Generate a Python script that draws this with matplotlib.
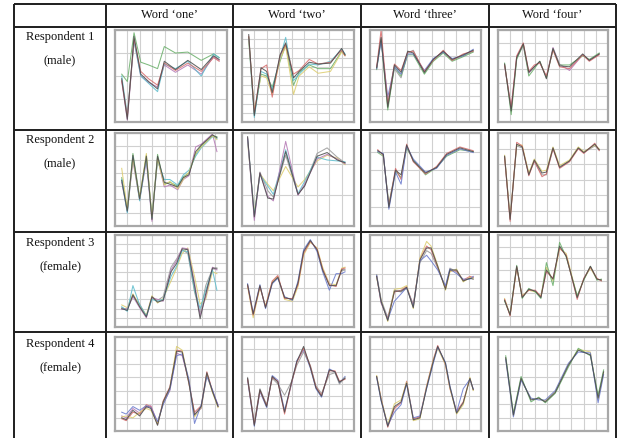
import matplotlib
matplotlib.use("Agg")
import matplotlib.pyplot as plt
import numpy as np

# ---------------- data ----------------
col_labels = ["Word \u2018one\u2019", "Word \u2018two\u2019", "Word \u2018three\u2019", "Word \u2018four\u2019"]
row_labels = [("Respondent 1", "(male)"), ("Respondent 2", "(male)"),
              ("Respondent 3", "(female)"), ("Respondent 4", "(female)")]

# horizontal grid divisions per panel
hgrid = [[4, 10, 7, 7], [7, 3, 5, 6], [10, 7, 7, 8], [7, 8, 8, 7]]

series_colors = ["#4a4a4a", "#d66a6a", "#6878cc", "#68ae68", "#b478b4", "#dccc6c", "#5cbccc", "#989898"]

r1c1_x = [6, 11, 17, 23, 30, 38, 44, 54, 65, 77, 88, 93]
r1c1_y = [
    [47, 3, 93, 52, 44, 36, 66, 57, 67, 57, 72, 68],
    [45, 6, 90, 55, 47, 40, 64, 56, 64, 55, 70, 66],
    [50, 8, 88, 50, 42, 33, 63, 58, 66, 50, 74, 70],
    [52, 44, 97, 65, 62, 58, 82, 75, 76, 67, 74, 70],
    [44, 2, 88, 50, 43, 38, 62, 54, 62, 52, 71, 67],
]
r1c1_c = [0, 1, 6, 3, 4]

r1c2_x = [6, 11, 17, 22, 27, 34, 39, 46, 51, 60, 68, 79, 89, 92]
r1c2_y = [
    [95, 7, 59, 55, 32, 73, 86, 48, 55, 65, 63, 64, 80, 73],
    [93, 10, 58, 62, 27, 72, 84, 52, 56, 68, 63, 65, 78, 72],
    [90, 5, 55, 52, 35, 70, 92, 45, 52, 63, 62, 66, 79, 74],
    [88, 12, 50, 48, 30, 68, 82, 30, 50, 60, 53, 55, 76, 72],
    [92, 9, 52, 50, 38, 66, 84, 40, 54, 62, 58, 58, 77, 73],
]
r1c2_c = [0, 1, 6, 5, 3]

r1c3_x = [6, 10, 16, 22, 28, 34, 39, 49, 57, 66, 74, 84, 93]
r1c3_y = [
    [59, 92, 16, 62, 54, 77, 75, 54, 68, 77, 68, 73, 78],
    [60, 100, 20, 63, 56, 76, 77, 55, 67, 78, 67, 74, 77],
    [58, 88, 27, 60, 52, 74, 74, 56, 69, 76, 69, 72, 79],
    [57, 90, 13, 60, 50, 73, 73, 52, 66, 75, 66, 71, 76],
    [59, 91, 18, 58, 48, 75, 78, 53, 68, 76, 67, 72, 77],
]
r1c3_c = [0, 1, 2, 3, 7]

r1c4_x = [6, 12, 17, 23, 28, 33, 38, 44, 50, 56, 65, 77, 83, 92]
r1c4_y = [
    [63, 12, 70, 85, 54, 60, 66, 47, 80, 61, 60, 74, 67, 74],
    [62, 16, 72, 86, 55, 62, 64, 50, 78, 60, 58, 73, 66, 73],
    [64, 8, 68, 84, 50, 58, 66, 48, 79, 62, 62, 72, 68, 75],
    [61, 14, 71, 83, 53, 60, 65, 49, 81, 63, 56, 73, 67, 74],
]
r1c4_c = [0, 1, 3, 4]

r2c1_x = [6, 11, 16, 22, 28, 33, 38, 44, 49, 56, 61, 66, 72, 77, 87, 91]
r2c1_y = [
    [49, 16, 76, 29, 75, 7, 75, 47, 45, 42, 52, 55, 80, 87, 98, 95],
    [62, 18, 72, 30, 78, 10, 72, 44, 48, 40, 50, 58, 78, 85, 97, 93],
    [50, 14, 74, 27, 73, 9, 70, 50, 50, 44, 55, 60, 75, 84, 96, 94],
    [47, 15, 70, 28, 70, 5, 73, 42, 44, 39, 50, 54, 85, 88, 99, 80],
    [52, 17, 78, 31, 76, 8, 77, 45, 47, 43, 53, 57, 77, 86, 97, 96],
]
r2c1_c = [0, 5, 6, 4, 3]

r2c2_x = [5, 11, 16, 23, 28, 39, 50, 56, 67, 76, 85, 92]
r2c2_y = [
    [96, 10, 57, 30, 29, 80, 34, 43, 75, 79, 71, 68],
    [94, 6, 57, 32, 27, 91, 33, 45, 72, 77, 72, 67],
    [93, 12, 55, 43, 34, 82, 35, 48, 74, 71, 70, 69],
    [90, 14, 56, 45, 38, 64, 42, 50, 70, 76, 73, 66],
    [95, 9, 58, 38, 31, 76, 34, 44, 78, 84, 74, 68],
]
r2c2_c = [0, 4, 6, 5, 7]

r2c3_x = [7, 12, 17, 23, 28, 33, 39, 50, 60, 69, 81, 93]
r2c3_y = [
    [81, 77, 20, 60, 55, 87, 70, 57, 63, 77, 84, 80],
    [80, 78, 18, 58, 45, 86, 72, 58, 62, 76, 83, 79],
    [82, 76, 22, 62, 50, 88, 69, 56, 64, 78, 85, 81],
    [79, 75, 24, 59, 52, 84, 71, 55, 63, 75, 82, 80],
]
r2c3_c = [0, 2, 1, 3]

r2c4_x = [6, 11, 17, 22, 28, 33, 40, 44, 50, 56, 65, 73, 78, 88, 92]
r2c4_y = [
    [75, 7, 88, 85, 55, 71, 57, 58, 84, 63, 70, 84, 79, 88, 82],
    [74, 5, 90, 86, 54, 70, 53, 56, 83, 62, 69, 83, 78, 89, 81],
    [76, 9, 87, 87, 57, 72, 59, 60, 85, 65, 71, 85, 80, 87, 83],
    [75, 8, 86, 84, 56, 69, 55, 55, 84, 64, 70, 84, 79, 86, 82],
]
r2c4_c = [0, 1, 5, 7]

r3c1_x = [6, 11, 16, 22, 28, 33, 38, 43, 50, 55, 60, 65, 71, 76, 81, 87, 91]
r3c1_y = [
    [20, 18, 35, 22, 11, 33, 27, 29, 60, 69, 85, 84, 45, 9, 36, 64, 64],
    [22, 17, 45, 24, 12, 30, 28, 30, 55, 66, 83, 82, 40, 20, 40, 62, 40],
    [19, 20, 33, 21, 10, 32, 30, 28, 62, 72, 86, 85, 48, 12, 33, 65, 62],
    [24, 21, 36, 23, 13, 34, 26, 31, 50, 64, 80, 86, 55, 25, 30, 60, 58],
    [21, 19, 34, 25, 12, 31, 29, 33, 65, 74, 84, 80, 38, 15, 45, 63, 63],
]
r3c1_c = [0, 6, 4, 5, 7]

r3c2_x = [5, 10, 16, 21, 27, 32, 38, 45, 50, 55, 61, 67, 72, 78, 84, 89, 92]
r3c2_y = [
    [46, 14, 45, 21, 48, 54, 32, 30, 48, 82, 94, 84, 62, 45, 45, 62, 62],
    [45, 13, 44, 22, 50, 56, 31, 31, 46, 80, 93, 85, 63, 46, 44, 63, 64],
    [47, 15, 46, 20, 47, 53, 33, 29, 50, 84, 95, 82, 60, 40, 58, 58, 60],
    [44, 10, 43, 23, 49, 55, 30, 28, 44, 78, 92, 86, 65, 47, 46, 64, 65],
]
r3c2_c = [0, 1, 2, 5]

r3c3_x = [6, 10, 16, 22, 28, 33, 39, 45, 51, 55, 61, 68, 72, 78, 84, 90, 93]
r3c3_y = [
    [55, 28, 7, 39, 39, 43, 21, 73, 86, 86, 66, 41, 62, 62, 50, 53, 52],
    [56, 27, 8, 28, 36, 43, 22, 72, 78, 72, 62, 45, 63, 58, 52, 52, 55],
    [54, 29, 6, 41, 42, 45, 20, 75, 93, 88, 67, 40, 60, 63, 49, 54, 53],
    [55, 26, 9, 38, 40, 44, 23, 74, 88, 84, 65, 42, 61, 61, 51, 55, 54],
    [57, 30, 10, 40, 38, 42, 25, 70, 83, 80, 64, 43, 64, 60, 50, 53, 54],
]
r3c3_c = [0, 2, 5, 1, 7]

r3c4_x = [6, 11, 17, 22, 28, 34, 39, 44, 50, 56, 62, 72, 78, 84, 90, 94]
r3c4_y = [
    [29, 13, 66, 32, 41, 39, 32, 62, 52, 88, 77, 32, 52, 66, 52, 51],
    [30, 12, 65, 33, 40, 40, 33, 60, 53, 86, 78, 30, 53, 65, 53, 50],
    [28, 14, 67, 31, 42, 38, 31, 70, 45, 92, 76, 34, 51, 66, 51, 52],
    [31, 13, 64, 34, 40, 38, 34, 65, 50, 85, 80, 33, 52, 64, 52, 51],
]
r3c4_c = [0, 1, 3, 5]

r4c1_x = [6, 10, 16, 22, 28, 32, 38, 43, 49, 55, 60, 66, 71, 77, 82, 87, 92]
r4c1_y = [
    [14, 12, 22, 16, 26, 24, 6, 31, 46, 85, 84, 51, 17, 26, 62, 42, 26],
    [20, 18, 26, 22, 27, 25, 10, 28, 44, 80, 82, 55, 8, 28, 58, 44, 27],
    [15, 16, 14, 20, 24, 22, 8, 30, 45, 90, 86, 52, 15, 25, 60, 41, 25],
    [13, 11, 20, 18, 28, 26, 7, 32, 47, 86, 85, 50, 20, 27, 63, 43, 26],
    [16, 14, 24, 19, 25, 27, 9, 29, 43, 83, 80, 53, 18, 24, 61, 42, 28],
]
r4c1_c = [0, 2, 5, 1, 4]

r4c2_x = [5, 11, 16, 22, 27, 32, 38, 44, 49, 55, 61, 66, 71, 78, 83, 87, 92]
r4c2_y = [
    [56, 6, 44, 26, 58, 52, 20, 51, 74, 90, 68, 46, 37, 65, 63, 52, 56],
    [55, 7, 43, 27, 57, 53, 18, 50, 73, 88, 69, 47, 38, 64, 64, 53, 55],
    [57, 9, 45, 28, 56, 50, 38, 52, 70, 84, 70, 48, 40, 60, 62, 50, 57],
    [54, 5, 42, 25, 59, 54, 22, 49, 75, 86, 67, 45, 36, 66, 63, 51, 58],
]
r4c2_c = [0, 1, 7, 2]

r4c3_x = [6, 10, 16, 22, 28, 33, 39, 45, 51, 57, 61, 68, 72, 78, 84, 90, 93]
r4c3_y = [
    [58, 33, 5, 26, 31, 51, 12, 14, 46, 74, 90, 72, 47, 19, 30, 56, 44],
    [57, 32, 6, 20, 28, 50, 14, 16, 45, 72, 89, 73, 48, 20, 45, 55, 45],
    [59, 34, 7, 29, 33, 52, 11, 13, 47, 75, 88, 71, 46, 18, 28, 57, 43],
    [58, 35, 4, 24, 30, 53, 13, 15, 48, 76, 91, 70, 45, 21, 31, 56, 44],
]
r4c3_c = [0, 2, 5, 1]

r4c4_x = [7, 14, 21, 30, 37, 43, 52, 64, 73, 84, 91, 96]
r4c4_y = [
    [78, 17, 56, 33, 35, 31, 41, 70, 86, 81, 35, 63],
    [76, 15, 54, 35, 33, 33, 43, 72, 84, 83, 30, 60],
    [80, 19, 58, 31, 36, 30, 40, 68, 88, 80, 38, 65],
    [77, 16, 55, 34, 34, 32, 42, 71, 87, 84, 33, 62],
]
r4c4_c = [0, 2, 3, 5]

panels = [
    [(r1c1_x, r1c1_y, r1c1_c), (r1c2_x, r1c2_y, r1c2_c), (r1c3_x, r1c3_y, r1c3_c), (r1c4_x, r1c4_y, r1c4_c)],
    [(r2c1_x, r2c1_y, r2c1_c), (r2c2_x, r2c2_y, r2c2_c), (r2c3_x, r2c3_y, r2c3_c), (r2c4_x, r2c4_y, r2c4_c)],
    [(r3c1_x, r3c1_y, r3c1_c), (r3c2_x, r3c2_y, r3c2_c), (r3c3_x, r3c3_y, r3c3_c), (r3c4_x, r3c4_y, r3c4_c)],
    [(r4c1_x, r4c1_y, r4c1_c), (r4c2_x, r4c2_y, r4c2_c), (r4c3_x, r4c3_y, r4c3_c), (r4c4_x, r4c4_y, r4c4_c)],
]

# ---------------- layout (pixels) ----------------
W, H = 619, 438
fig = plt.figure(figsize=(W / 100, H / 100), dpi=100)
fig.patch.set_facecolor("white")

tab = fig.add_axes([0, 0, 1, 1])
tab.set_xlim(0, W)
tab.set_ylim(H, 0)
tab.axis("off")

vlines = [14, 106, 233, 361, 489, 616]
hlines = [4, 27, 130, 232, 332]
for x in vlines:
    tab.plot([x, x], [4, H], color="#1e1e1e", lw=1.4, solid_capstyle="butt")
for y in hlines:
    tab.plot([14, 616], [y, y], color="#1e1e1e", lw=1.4, solid_capstyle="butt")

serif = ["Liberation Serif", "DejaVu Serif"]
for j, lab in enumerate(col_labels):
    xc = (vlines[j + 1] + vlines[j + 2]) / 2
    tab.text(xc, 15, lab, ha="center", va="center", fontsize=9, family=serif, color="#111")

row_text_y = [(37, 60), (140, 163), (243, 266), (344, 367)]
for i, (a, b) in enumerate(row_labels):
    tab.text(60, row_text_y[i][0], a, ha="center", va="center", fontsize=9, family=serif, color="#111")
    tab.text(60, row_text_y[i][1], b, ha="center", va="center", fontsize=9, family=serif, color="#111")

cols_px = [(115, 227), (242, 354), (370, 481), (498, 608)]
rows_px = [(30, 122), (133, 226), (235, 327), (337, 431)]

for i in range(4):
    for j in range(4):
        x0, x1 = cols_px[j]
        y0, y1 = rows_px[i]
        ax = fig.add_axes([x0 / W, 1 - y1 / H, (x1 - x0) / W, (y1 - y0) / H])
        ax.set_xlim(0, 100)
        ax.set_ylim(0, 100)
        ax.set_xticks(np.linspace(0, 100, 10))
        ax.set_yticks(np.linspace(0, 100, hgrid[i][j] + 1))
        ax.grid(True, color="#d0d0d0", lw=0.8)
        ax.tick_params(length=0, labelbottom=False, labelleft=False)
        for s in ax.spines.values():
            s.set_color("#a8a8a8")
            s.set_linewidth(1.6)
        xs, ys, cs = panels[i][j]
        for k in range(len(ys) - 1, -1, -1):
            ax.plot(xs, ys[k], color=series_colors[cs[k]], lw=0.75, alpha=0.85, clip_on=False)

fig.savefig("out.png", dpi=100, facecolor="white")
